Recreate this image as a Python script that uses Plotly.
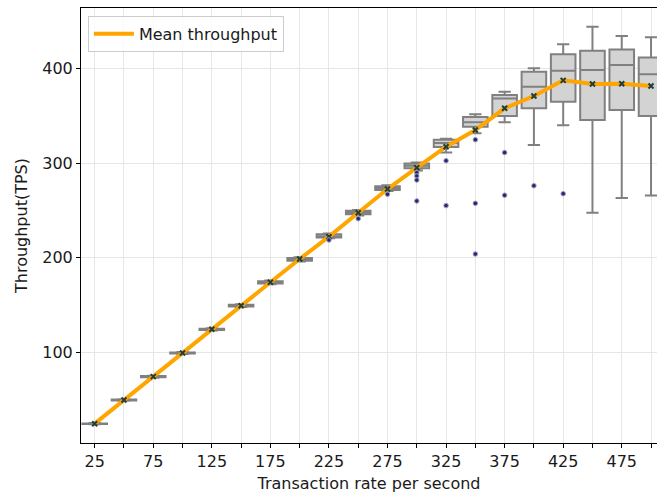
import plotly.graph_objects as go

categories = [25, 50, 75, 100, 125, 150, 175, 200, 225, 250,
              275, 300, 325, 350, 375, 400, 425, 450, 475, 500]
q1 = [24.3, 49.3, 73.8, 98.8, 123.6, 148.5, 172.8, 196.8, 221.2, 245.8,
      271.5, 294.5, 317.0, 338.3, 349.6, 357.8, 364.7, 345.4, 356.0, 349.6]
median = [24.8, 49.8, 74.5, 99.5, 124.5, 149.5, 174.0, 198.5, 222.5, 247.5,
          273.5, 297.0, 321.0, 343.0, 368.0, 380.6, 397.5, 398.2, 403.5, 393.8]
q3 = [25.0, 50.2, 75.0, 100.0, 125.0, 150.2, 175.2, 199.8, 224.8, 249.5,
      275.5, 299.5, 324.5, 348.5, 371.8, 396.4, 414.8, 418.6, 420.0, 411.4]
lower = [24.0, 48.8, 73.3, 98.2, 123.0, 147.8, 172.0, 196.0, 220.5, 244.5,
         270.5, 292.0, 311.0, 331.4, 343.0, 319.0, 340.0, 247.5, 263.0, 265.8]
upper = [25.4, 50.5, 75.4, 100.5, 125.5, 150.8, 175.8, 200.5, 225.6, 250.4,
         276.5, 300.5, 325.5, 351.4, 375.3, 400.0, 425.3, 443.9, 434.0, 432.7]
mean_tps = [24.7, 49.8, 74.4, 99.4, 124.4, 149.3, 174.0, 198.6, 222.2, 247.5,
            272.5, 295.0, 317.2, 334.8, 357.8, 370.8, 387.3, 383.4, 383.7, 381.3]
outlier_x = [225, 250, 275, 300, 300, 300, 300, 325, 325, 350, 350, 350,
             375, 375, 400, 425]
outlier_y = [218.7, 241.2, 267.0, 289.8, 286.3, 282.0, 259.9, 302.4, 255.0,
             324.6, 257.4, 203.9, 311.0, 266.0, 276.0, 267.6]
tick_labels = [str(c) if i % 2 == 0 else "" for i, c in enumerate(categories)]

fig = go.Figure()
fig.add_trace(go.Box(
    x=categories, q1=q1, median=median, q3=q3,
    lowerfence=lower, upperfence=upper,
    width=21, whiskerwidth=0.5,
    fillcolor="#d3d3d3", line=dict(color="#808080", width=2),
    boxpoints=False, showlegend=False, hoverinfo="skip",
))
fig.add_trace(go.Scatter(
    x=categories, y=mean_tps, mode="lines",
    line=dict(color="#FFA500", width=4), name="Mean throughput",
))
fig.add_trace(go.Scatter(
    x=categories, y=mean_tps, mode="markers",
    marker=dict(symbol="x-thin", size=5, color="#1e3d3d",
                line=dict(width=2, color="#1e3d3d")),
    showlegend=False,
))
fig.add_trace(go.Scatter(
    x=outlier_x, y=outlier_y, mode="markers",
    marker=dict(symbol="circle", size=4.5, color="#23238e",
                line=dict(color="#a0a0a0", width=1)),
    showlegend=False,
))

fs = 16
txt = "#1a1a1a"
font = dict(family="DejaVu Sans", size=fs, color=txt)
fig.update_layout(
    width=657, height=496,
    margin=dict(l=81, r=0, t=8, b=53),
    paper_bgcolor="white", plot_bgcolor="white",
    font=font,
    legend=dict(x=0.012, y=0.982, xanchor="left", yanchor="top",
                bgcolor="rgba(255,255,255,0.8)", bordercolor="#cccccc",
                borderwidth=1, font=dict(family="DejaVu Sans", size=fs, color=txt),
                itemwidth=40, tracegroupgap=0),
    xaxis=dict(
        range=[13.3, 505.1], tickmode="array", tickvals=categories,
        ticktext=tick_labels, ticks="outside", ticklen=4, tickcolor="#000",
        showgrid=True, gridcolor="#e6e6e6", gridwidth=1,
        showline=True, linecolor="#000", linewidth=1, mirror=True,
        zeroline=False,
        title=dict(text="Transaction rate per second", standoff=7,
                   font=dict(family="DejaVu Sans", size=fs, color=txt)),
    ),
    yaxis=dict(
        range=[4.3, 463.7], tickvals=[100, 200, 300, 400],
        ticks="outside", ticklen=4, tickcolor="#000",
        showgrid=True, gridcolor="#e6e6e6", gridwidth=1,
        showline=True, linecolor="#000", linewidth=1, mirror=False,
        zeroline=False,
        title=dict(text="Throughput(TPS)", standoff=10,
                   font=dict(family="DejaVu Sans", size=fs, color=txt)),
    ),
)
fig.write_html("out.html")
